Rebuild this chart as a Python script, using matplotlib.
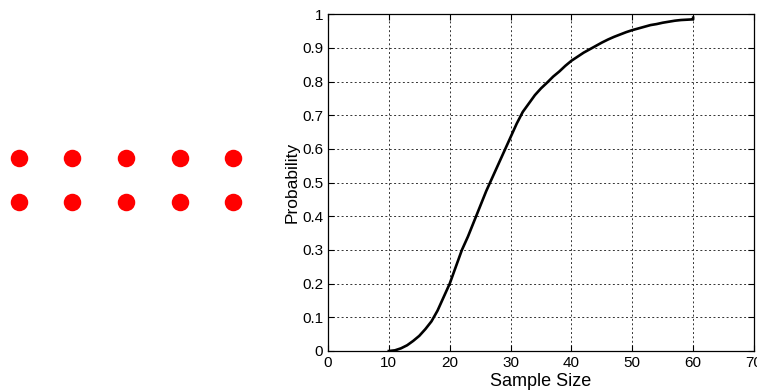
import matplotlib
matplotlib.use('Agg')
from matplotlib import pyplot as plt
import numpy as np

plt.rcParams['font.family'] = ['Liberation Sans', 'DejaVu Sans']

# dot grid on the left
dot_cols = 5
dot_rows = 2

# curve: probability vs sample size
sample_size = list(range(10, 61)) + [60]
probability = [0.0, 0.002, 0.008, 0.017, 0.030, 0.045, 0.065, 0.088, 0.12, 0.16,
               0.20, 0.25, 0.30, 0.34, 0.385, 0.43, 0.475, 0.515, 0.555, 0.595,
               0.635, 0.675, 0.71, 0.735, 0.76, 0.78, 0.797, 0.815, 0.83, 0.847,
               0.862, 0.874, 0.886, 0.896, 0.906, 0.916, 0.925, 0.933, 0.94, 0.947,
               0.953, 0.958, 0.963, 0.968, 0.971, 0.975, 0.978, 0.981, 0.983, 0.984,
               0.985, 0.99]
xticks = [0, 10, 20, 30, 40, 50, 60, 70]
yticks = [0, 0.1, 0.2, 0.3, 0.4, 0.5, 0.6, 0.7, 0.8, 0.9, 1]
ytick_labels = ['0', '0.1', '0.2', '0.3', '0.4', '0.5', '0.6', '0.7', '0.8', '0.9', '1']

fig = plt.figure(figsize=(7.57, 3.92), dpi=100)

# left panel with dots
ax0 = fig.add_axes([0, (392 - 260) / 392, 260 / 757, 160 / 392])
cx, cy = np.meshgrid(np.arange(dot_cols), np.arange(dot_rows))
ax0.plot(cx.ravel(), cy.ravel(), 'o', color='red', markersize=12.6, markeredgewidth=0)
ax0.set_xlim(-0.3486, 4.498)
ax0.set_ylim(2.294, -1.294)
ax0.axis('off')

# right panel
ax = fig.add_axes([328 / 757, 41 / 392, 426 / 757, 336.7 / 392])
ax.plot(sample_size, probability, color='black', linewidth=1.9)
ax.set_xlim(0, 70)
ax.set_ylim(0, 1)
ax.set_xticks(xticks)
ax.set_yticks(yticks)
ax.set_yticklabels(ytick_labels)
ax.grid(True, color='#333333', linestyle=(0, (2, 2.5)), linewidth=0.7)
ax.tick_params(direction='in', top=True, right=True, labelsize=11, length=4)
ax.set_xlabel('Sample Size', fontsize=13, labelpad=2)
ax.set_ylabel('Probability', fontsize=12.5, labelpad=2)
for s in ax.spines.values():
    s.set_linewidth(0.9)

plt.savefig('out.png', dpi=100)
